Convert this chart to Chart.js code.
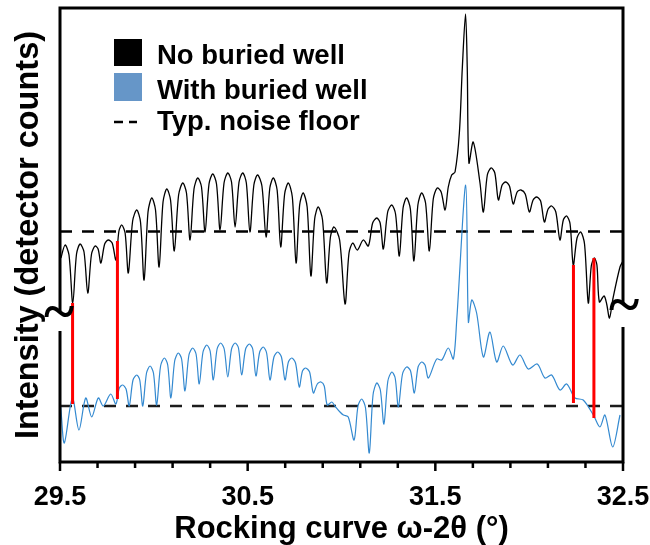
<!DOCTYPE html>
<html><head><meta charset="utf-8">
<script src="https://cdn.jsdelivr.net/npm/chart.js@4.4.0/dist/chart.umd.min.js"></script>
<style>html,body{margin:0;padding:0;background:#fff;}</style>
</head><body>
<canvas id="c" width="650" height="545"></canvas>
<script>
// ---- data (x: rocking curve ω-2θ in degrees, y: intensity in arbitrary offset units) ----
const xBlack = [29.505,29.527,29.548,29.568,29.588,29.607,29.628,29.648,29.668,29.687,29.703,29.718,29.738,29.757,29.778,29.798,29.814,29.829,29.847,29.864,
  29.887,29.909,29.929,29.948,29.969,29.989,30.009,30.028,30.049,30.069,30.089,30.109,30.132,30.154,30.174,30.193,30.214,30.234,30.254,30.273,
  30.294,30.314,30.334,30.353,30.374,30.394,30.414,30.433,30.454,30.474,30.493,30.512,30.533,30.553,30.576,30.598,30.618,30.637,30.657,30.676,
  30.697,30.717,30.738,30.758,30.777,30.796,30.817,30.837,30.857,30.876,30.899,30.921,30.941,30.960,30.990,31.019,31.040,31.060,31.084,31.116,
  31.143,31.166,31.188,31.206,31.223,31.246,31.268,31.288,31.308,31.328,31.347,31.367,31.386,31.407,31.427,31.448,31.468,31.489,31.510,31.531,
  31.552,31.569,31.587,31.605,31.628,31.644,31.661,31.670,31.679,31.702,31.738,31.756,31.777,31.797,31.817,31.836,31.856,31.875,31.895,31.915,
  31.936,31.956,31.979,32.001,32.021,32.040,32.061,32.081,32.101,32.120,32.142,32.164,32.182,32.200,32.218,32.235,32.255,32.275,32.295,32.315,
  32.331,32.347,32.361,32.374,32.399,32.413,32.428,32.447,32.484,32.500];
const yBlack = [204,217,207,159,208,218,210,169,208,216,213,199,218,222,219,202,231,237,229,189,
  241,252,240,182,250,264,252,195,260,273,262,211,267,279,269,222,273,284,275,230,
  278,288,278,232,279,289,280,235,280,289,279,230,277,287,276,225,274,284,272,215,
  268,279,265,199,257,269,255,186,243,255,242,179,225,235,222,158,209,219,212,222,
  216,239,244,239,213,250,257,248,206,254,264,253,201,257,269,259,211,263,274,270,
  252,275,287,290,329,395,448,395,299,320,279,250,287,294,289,262,277,280,276,258,
  270,272,268,250,262,265,261,240,253,256,250,222,242,246,238,197,224,230,218,159,
  196,204,197,160,166,158,144,164,195,201];

const xBlue = [29.504,29.523,29.566,29.601,29.637,29.669,29.704,29.731,29.770,29.798,29.816,29.834,29.852,29.869,29.889,29.909,29.925,29.941,29.961,29.980,
  29.998,30.015,30.036,30.056,30.074,30.091,30.111,30.130,30.148,30.166,30.187,30.207,30.225,30.242,30.262,30.282,30.300,30.317,30.337,30.356,
  30.375,30.394,30.414,30.433,30.451,30.468,30.489,30.509,30.527,30.544,30.564,30.583,30.601,30.619,30.640,30.660,30.680,30.699,30.717,30.735,
  30.755,30.775,30.792,30.809,30.830,30.850,30.871,30.891,30.908,30.924,30.948,30.965,30.992,31.010,31.036,31.067,31.088,31.108,31.128,31.148,
  31.168,31.188,31.207,31.226,31.247,31.268,31.286,31.303,31.325,31.347,31.368,31.388,31.408,31.427,31.445,31.463,31.507,31.534,31.569,31.596,
  31.614,31.662,31.676,31.694,31.720,31.756,31.791,31.827,31.862,31.912,31.951,31.995,32.043,32.084,32.120,32.164,32.200,32.244,32.288,32.342,
  32.377,32.404,32.445,32.484];
const yBlue = [55,19,64,32,64,45,64,56,68,58,74,77,73,56,82,87,82,56,89,96,
  89,57,96,104,97,64,101,109,103,71,107,114,108,78,110,117,111,82,113,119,
  113,85,113,119,114,87,113,118,113,86,110,115,109,82,105,110,105,82,100,104,
  99,75,91,94,90,69,78,80,76,57,60,56,50,47,45,22,56,63,54,9,
  67,79,72,38,81,90,84,55,88,95,91,69,95,100,97,84,103,102,114,103,
  142,277,140,162,149,105,130,100,116,97,107,93,98,84,87,72,78,64,62,47,
  35,47,15,47];

// typical noise floor for each curve
const noiseFloor = [230.5, 56];
// red marker lines: position and the two ends
const redX = [29.567, 29.806, 32.236, 32.345];
const redTop = [159, 221, 197, 204];
const redBottom = [58, 63, 59, 44];

// axis
const xMin = 29.5, xMax = 32.5;
const xTickValues = [29.5,29.7,29.9,30.1,30.3,30.5,30.7,30.9,31.1,31.3,31.5,31.7,31.9,32.1,32.3,32.5];
const xMajorTicks = [29.5, 30.5, 31.5, 32.5];
const yMin = 0, yMax = 454;
const axisBreak = [131, 151];

const legendLabels = ['No buried well', 'With buried well', 'Typ. noise floor'];
const xTitle = 'Rocking curve \u03c9-2\u03b8 (\u00b0)';
const yTitle = 'Intensity (detector counts)';

const BLACK = '#000000', BLUE = '#3389d0', BLUE_LEG = '#6696c8', RED = '#ff0000';
const FONT = '"Liberation Sans", Arial, Helvetica, sans-serif';

const pts = (xs, ys) => xs.map((x, i) => ({x: x, y: ys[i]}));
const isMajor = v => xMajorTicks.some(m => Math.abs(m - v) < 1e-6);

const datasets = [
  {label: legendLabels[0], data: pts(xBlack, yBlack), borderColor: BLACK, borderWidth: 1.3, order: 2, tension: 0.3},
  {label: legendLabels[1], data: pts(xBlue, yBlue), borderColor: BLUE, borderWidth: 1.2, order: 2, tension: 0.3},
  {label: legendLabels[2], data: [{x: xMin, y: noiseFloor[0]}, {x: xMax, y: noiseFloor[0]}], borderColor: '#000', borderWidth: 2.5, borderDash: [12, 10], order: 3, tension: 0},
  {label: legendLabels[2], data: [{x: xMin, y: noiseFloor[1]}, {x: xMax, y: noiseFloor[1]}], borderColor: '#1c1c1c', borderWidth: 2.5, borderDash: [12, 10], order: 3, tension: 0}
];
redX.forEach((x, i) => datasets.push({
  label: 'marker', data: [{x: x, y: redTop[i]}, {x: x, y: redBottom[i]}],
  borderColor: RED, borderWidth: 3, order: 1, tension: 0
}));

const framePlugin = {
  id: 'frame',
  afterDatasetsDraw(chart) {
    const {ctx, chartArea: a, scales: {x, y}} = chart;
    const bTop = y.getPixelForValue(axisBreak[1]);
    const bBot = y.getPixelForValue(axisBreak[0]);
    ctx.save();
    ctx.strokeStyle = '#000';
    ctx.lineWidth = 3;
    ctx.lineCap = 'butt';
    ctx.beginPath();
    ctx.moveTo(a.left - 1.5, a.top); ctx.lineTo(a.right + 1.5, a.top);
    ctx.moveTo(a.left - 1.5, a.bottom); ctx.lineTo(a.right + 1.5, a.bottom);
    ctx.moveTo(a.left, a.top); ctx.lineTo(a.left, bTop);
    ctx.moveTo(a.left, bBot); ctx.lineTo(a.left, a.bottom);
    ctx.moveTo(a.right, a.top); ctx.lineTo(a.right, bTop - 8);
    ctx.moveTo(a.right, bBot - 4); ctx.lineTo(a.right, a.bottom);
    ctx.stroke();
    // tick marks
    ctx.lineWidth = 2.5;
    ctx.beginPath();
    x.ticks.forEach(t => {
      const px = x.getPixelForValue(t.value);
      ctx.moveTo(px, a.bottom); ctx.lineTo(px, a.bottom + (isMajor(t.value) ? 9 : 6));
    });
    ctx.stroke();
    // break symbols
    ctx.fillStyle = '#000';
    ctx.font = 'bold 58px "Liberation Serif", "DejaVu Serif", serif';
    ctx.textAlign = 'center';
    ctx.textBaseline = 'middle';
    ctx.fillText('~', a.left - 1, bTop + 4);
    ctx.fillText('~', a.right + 1, bTop - 3);
    ctx.restore();
  }
};

const legendPlugin = {
  id: 'customLegend',
  afterDatasetsDraw(chart) {
    const {ctx, chartArea: a} = chart;
    const x0 = a.left + 54, tx = a.left + 97;
    ctx.save();
    ctx.fillStyle = BLACK; ctx.fillRect(x0, 39, 28, 27);
    ctx.fillStyle = BLUE_LEG; ctx.fillRect(x0, 73, 28, 28);
    ctx.strokeStyle = '#000'; ctx.lineWidth = 2.5;
    ctx.beginPath();
    ctx.moveTo(x0, 122); ctx.lineTo(x0 + 9, 122);
    ctx.moveTo(x0 + 15, 122); ctx.lineTo(x0 + 23, 122);
    ctx.stroke();
    ctx.fillStyle = '#000';
    ctx.font = 'bold 27.5px ' + FONT;
    ctx.textAlign = 'left'; ctx.textBaseline = 'alphabetic';
    ctx.fillText(legendLabels[0], tx, 64);
    ctx.fillText(legendLabels[1], tx, 99);
    ctx.fillText(legendLabels[2], tx, 130);
    ctx.restore();
  }
};

new Chart(document.getElementById('c'), {
  type: 'line',
  data: {datasets: datasets},
  options: {
    responsive: false,
    animation: false,
    devicePixelRatio: 1,
    layout: {padding: {top: 8, right: 27, left: 0, bottom: 0}},
    elements: {
      point: {radius: 0},
      line: {fill: false, capBezierPoints: true}
    },
    plugins: {legend: {display: false}, tooltip: {enabled: false}},
    scales: {
      x: {
        type: 'linear', min: xMin, max: xMax,
        afterBuildTicks: s => { s.ticks = xTickValues.map(v => ({value: v, major: isMajor(v)})); },
        afterFit: s => { s.height = 83; s.paddingLeft = 0; s.paddingRight = 0; },
        ticks: {
          autoSkip: false, maxRotation: 0, padding: 11, color: '#000',
          font: {family: FONT, size: 27, weight: 'bold'},
          callback: v => isMajor(v) ? v.toFixed(1) : ''
        },
        grid: {display: true, drawOnChartArea: false, drawTicks: true, tickLength: 8, tickColor: 'rgba(0,0,0,0)', color: 'rgba(0,0,0,0)'},
        border: {display: false},
        title: {display: true, text: xTitle, color: '#000', font: {family: FONT, size: 31, weight: 'bold', lineHeight: 1.0}, padding: {top: 0, bottom: 0}}
      },
      y: {
        type: 'linear', min: yMin, max: yMax,
        afterFit: s => { s.width = 60; },
        ticks: {display: false},
        grid: {display: false},
        border: {display: false},
        title: {display: true, text: yTitle, color: '#000', font: {family: FONT, size: 32.5, weight: 'bold'}, padding: {top: 10, bottom: 0}}
      }
    }
  },
  plugins: [framePlugin, legendPlugin]
});
</script>
</body></html>
